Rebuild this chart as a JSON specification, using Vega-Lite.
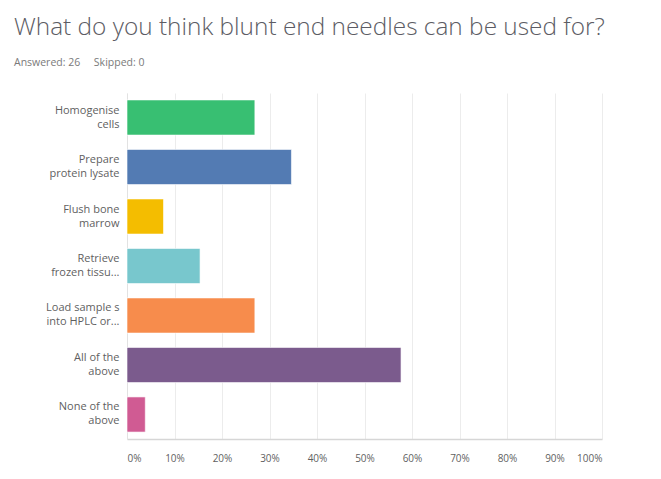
{
  "$schema": "https://vega.github.io/schema/vega-lite/v6.json",
  "width": 475,
  "height": 346,
  "autosize": "none",
  "padding": {"left": 127, "top": 93, "right": 59, "bottom": 40},
  "background": "white",
  "title": {
    "text": "What do you think blunt end needles can be used for?",
    "subtitle": "Answered: 26\u00a0\u00a0\u00a0\u00a0\u00a0Skipped: 0",
    "anchor": "start",
    "frame": "group",
    "dx": -113,
    "offset": 24,
    "font": "Open Sans",
    "fontSize": 24.4,
    "fontWeight": 300,
    "color": "#5c5c64",
    "subtitleFont": "Open Sans",
    "subtitleFontSize": 10.5,
    "subtitleColor": "#7a7a7a",
    "subtitlePadding": 17
  },
  "data": {
    "values": [
      {"choice": "Homogenise|cells", "pct": 0.2692},
      {"choice": "Prepare|protein lysate", "pct": 0.3462},
      {"choice": "Flush bone|marrow", "pct": 0.0769},
      {"choice": "Retrieve|frozen tissu...", "pct": 0.1538},
      {"choice": "Load sample s|into HPLC or...", "pct": 0.2692},
      {"choice": "All of the|above", "pct": 0.5769},
      {"choice": "None of the|above", "pct": 0.0385}
    ]
  },
  "mark": {"type": "bar", "stroke": "white", "strokeOpacity": 0.6, "strokeWidth": 1},
  "encoding": {
    "y": {
      "field": "choice",
      "type": "nominal",
      "sort": null,
      "scale": {"paddingInner": 0.29, "paddingOuter": 0.14},
      "axis": {
        "title": null,
        "labelExpr": "split(datum.label, '|')",
        "labelFont": "Open Sans",
        "labelFontSize": 11,
        "labelColor": "#5f5f5f",
        "labelLineHeight": 14,
        "labelPadding": 8,
        "labelOffset": -7,
        "ticks": false,
        "domainColor": "#e2e2e2",
        "labelLimit": 200
      }
    },
    "x": {
      "field": "pct",
      "type": "quantitative",
      "scale": {"domain": [0, 1], "nice": false},
      "axis": {
        "title": null,
        "format": ".0%",
        "values": [0, 0.1, 0.2, 0.3, 0.4, 0.5, 0.6, 0.7, 0.8, 0.9, 1],
        "labelFont": "Open Sans",
        "labelFontSize": 10,
        "labelColor": "#5f5f5f",
        "labelPadding": 14,
        "ticks": false,
        "domainColor": "#d6d6d6",
        "domainWidth": 1.5,
        "gridColor": "#ececec",
        "labelFlush": true
      }
    },
    "color": {
      "field": "choice",
      "type": "nominal",
      "sort": null,
      "legend": null,
      "scale": {
        "domain": ["Homogenise|cells", "Prepare|protein lysate", "Flush bone|marrow", "Retrieve|frozen tissu...", "Load sample s|into HPLC or...", "All of the|above", "None of the|above"],
        "range": ["#38bf72", "#537bb3", "#f4bd00", "#78c7cd", "#f78c4c", "#7b5b8d", "#d05b93"]
      }
    }
  },
  "config": {"view": {"stroke": null}}
}
